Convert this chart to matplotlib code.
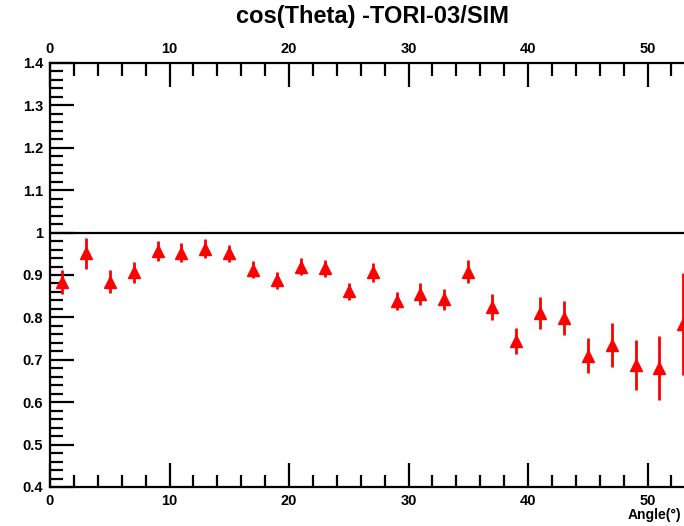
import matplotlib
matplotlib.use("Agg")
import matplotlib.pyplot as plt
from matplotlib.ticker import MultipleLocator, FuncFormatter

# data
angle = [1, 3, 5, 7, 9, 11, 13, 15, 17, 19, 21, 23, 25, 27,
         29, 31, 33, 35, 37, 39, 41, 43, 45, 47, 49, 51, 53]
ratio = [0.884, 0.951, 0.884, 0.906, 0.956, 0.953, 0.962, 0.951, 0.912, 0.888,
         0.920, 0.916, 0.862, 0.906, 0.839, 0.855, 0.843, 0.908, 0.824, 0.745,
         0.811, 0.798, 0.710, 0.735, 0.688, 0.681, 0.784]
err = [0.028, 0.036, 0.027, 0.025, 0.024, 0.023, 0.023, 0.020, 0.020, 0.020,
       0.020, 0.020, 0.020, 0.023, 0.022, 0.025, 0.025, 0.028, 0.031, 0.031,
       0.038, 0.040, 0.042, 0.052, 0.059, 0.075, 0.120]

FONT = "Liberation Sans"

W, H = 684, 526
fig = plt.figure(figsize=(W / 100, H / 100), dpi=100)

# px per unit: 11.95 in x, x=0 at px 50; y 1.4 at px 63, 0.4 at px 487
# the frame runs past the right edge of the picture, as in the original
x0, xmax = 50, 57
ax = fig.add_axes([x0 / W, (H - 487) / H, xmax * 11.95 / W, (487 - 63) / H])
ax.set_xlim(0, xmax)
ax.set_ylim(0.4, 1.4)

ax.axhline(1.0, color="black", lw=1.6, zorder=1)
ax.errorbar(angle, ratio, yerr=err, fmt="^", color="#ff0000", ms=9,
            elinewidth=2, capsize=0, zorder=3)

for s in ax.spines.values():
    s.set_linewidth(1.6)

ax.xaxis.set_major_locator(MultipleLocator(10))
ax.xaxis.set_minor_locator(MultipleLocator(2))
ax.yaxis.set_major_locator(MultipleLocator(0.1))
ax.yaxis.set_minor_locator(MultipleLocator(0.02))
ax.yaxis.set_major_formatter(FuncFormatter(lambda v, p: "%g" % round(v, 2)))

ax.tick_params(which="both", direction="in", width=1.6, top=True,
               labeltop=True, right=False)
ax.tick_params(which="major", length=17)
ax.tick_params(which="minor", length=9)
ax.tick_params(axis="x", pad=5)
ax.tick_params(axis="y", pad=5)

for lab in ax.get_xticklabels() + ax.get_yticklabels():
    lab.set_fontfamily(FONT)
    lab.set_fontweight("bold")
    lab.set_fontsize(10.5)

fig.text(372 / W, 1 - 17 / H, "cos(Theta) -TORI-03/SIM", ha="center",
         va="center", fontsize=17, fontfamily=FONT, fontweight="bold")
fig.text(681 / W, 1 - 515 / H, "Angle(°)", ha="right", va="center",
         fontsize=10, fontfamily=FONT, fontweight="bold")

fig.savefig("out.png", dpi=100)
